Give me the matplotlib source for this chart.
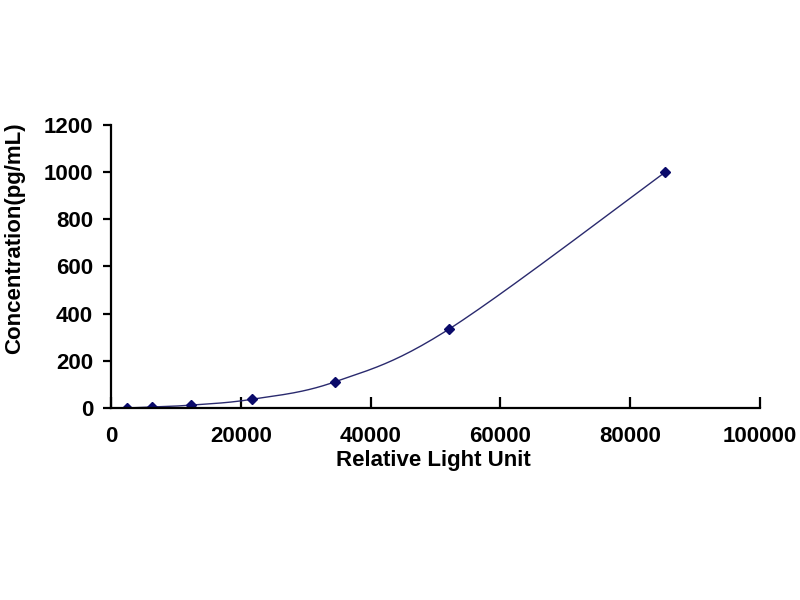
import numpy as np
import matplotlib.pyplot as plt

# standard curve points
rlu = [2400, 6300, 12300, 21700, 34500, 52000, 85400]
conc = [0, 4.1, 12.3, 37.0, 111.1, 333.3, 1000]

x_ticks = [0, 20000, 40000, 60000, 80000, 100000]
y_ticks = [0, 200, 400, 600, 800, 1000, 1200]


def smooth_line(xs, ys, sx, sy, n=40):
    """Catmull-Rom style smoothing through the points (like Excel's smoothed line)."""
    p = np.column_stack([np.asarray(xs, float) / sx, np.asarray(ys, float) / sy])
    p = np.vstack([p[0], p, p[-1]])
    out = []
    for i in range(1, len(p) - 2):
        p0, p1, p2, p3 = p[i - 1], p[i], p[i + 1], p[i + 2]
        c1 = p1 + (p2 - p0) / 6.0
        c2 = p2 - (p3 - p1) / 6.0
        t = np.linspace(0, 1, n)[:, None]
        seg = ((1 - t) ** 3) * p1 + 3 * ((1 - t) ** 2) * t * c1 + 3 * (1 - t) * t ** 2 * c2 + t ** 3 * p2
        out.append(seg)
    out = np.vstack(out)
    return out[:, 0] * sx, out[:, 1] * sy


plt.rcParams['font.family'] = ['Liberation Sans', 'DejaVu Sans']

fig = plt.figure(figsize=(8, 6), dpi=100)
ax = fig.add_axes([0.139, 0.32, 0.811, 0.4717])

cx, cy = smooth_line(rlu, conc, 100000, 1200)
ax.plot(cx, cy, color='#2a2a6e', lw=1.0)
ax.plot(rlu, conc, linestyle='none', marker='D', markersize=5,
        color='#0a0a6a', markeredgecolor='#0a0a6a')

ax.set_xlim(0, 100000)
ax.set_ylim(0, 1200)
ax.set_xticks(x_ticks)
ax.set_yticks(y_ticks)

ax.spines['top'].set_visible(False)
ax.spines['right'].set_visible(False)
for s in ('left', 'bottom'):
    ax.spines[s].set_linewidth(1.6)
    ax.spines[s].set_color('black')

ax.tick_params(axis='x', direction='in', length=8, width=1.6, pad=13,
               labelsize=16)
ax.tick_params(axis='y', direction='out', length=6, width=1.6, pad=7,
               labelsize=16)
for lab in ax.get_xticklabels() + ax.get_yticklabels():
    lab.set_fontweight('bold')

ax.set_xlabel('Relative Light Unit', fontsize=16, fontweight='bold')
ax.set_ylabel('Concentration(pg/mL)', fontsize=16, fontweight='bold')
ax.xaxis.set_label_coords(0.497, -0.187)
ax.yaxis.set_label_coords(-0.149, 0.60)
ax.xaxis.label.set_va('center')
ax.yaxis.label.set_va('center')

plt.savefig('out.png', dpi=100)
